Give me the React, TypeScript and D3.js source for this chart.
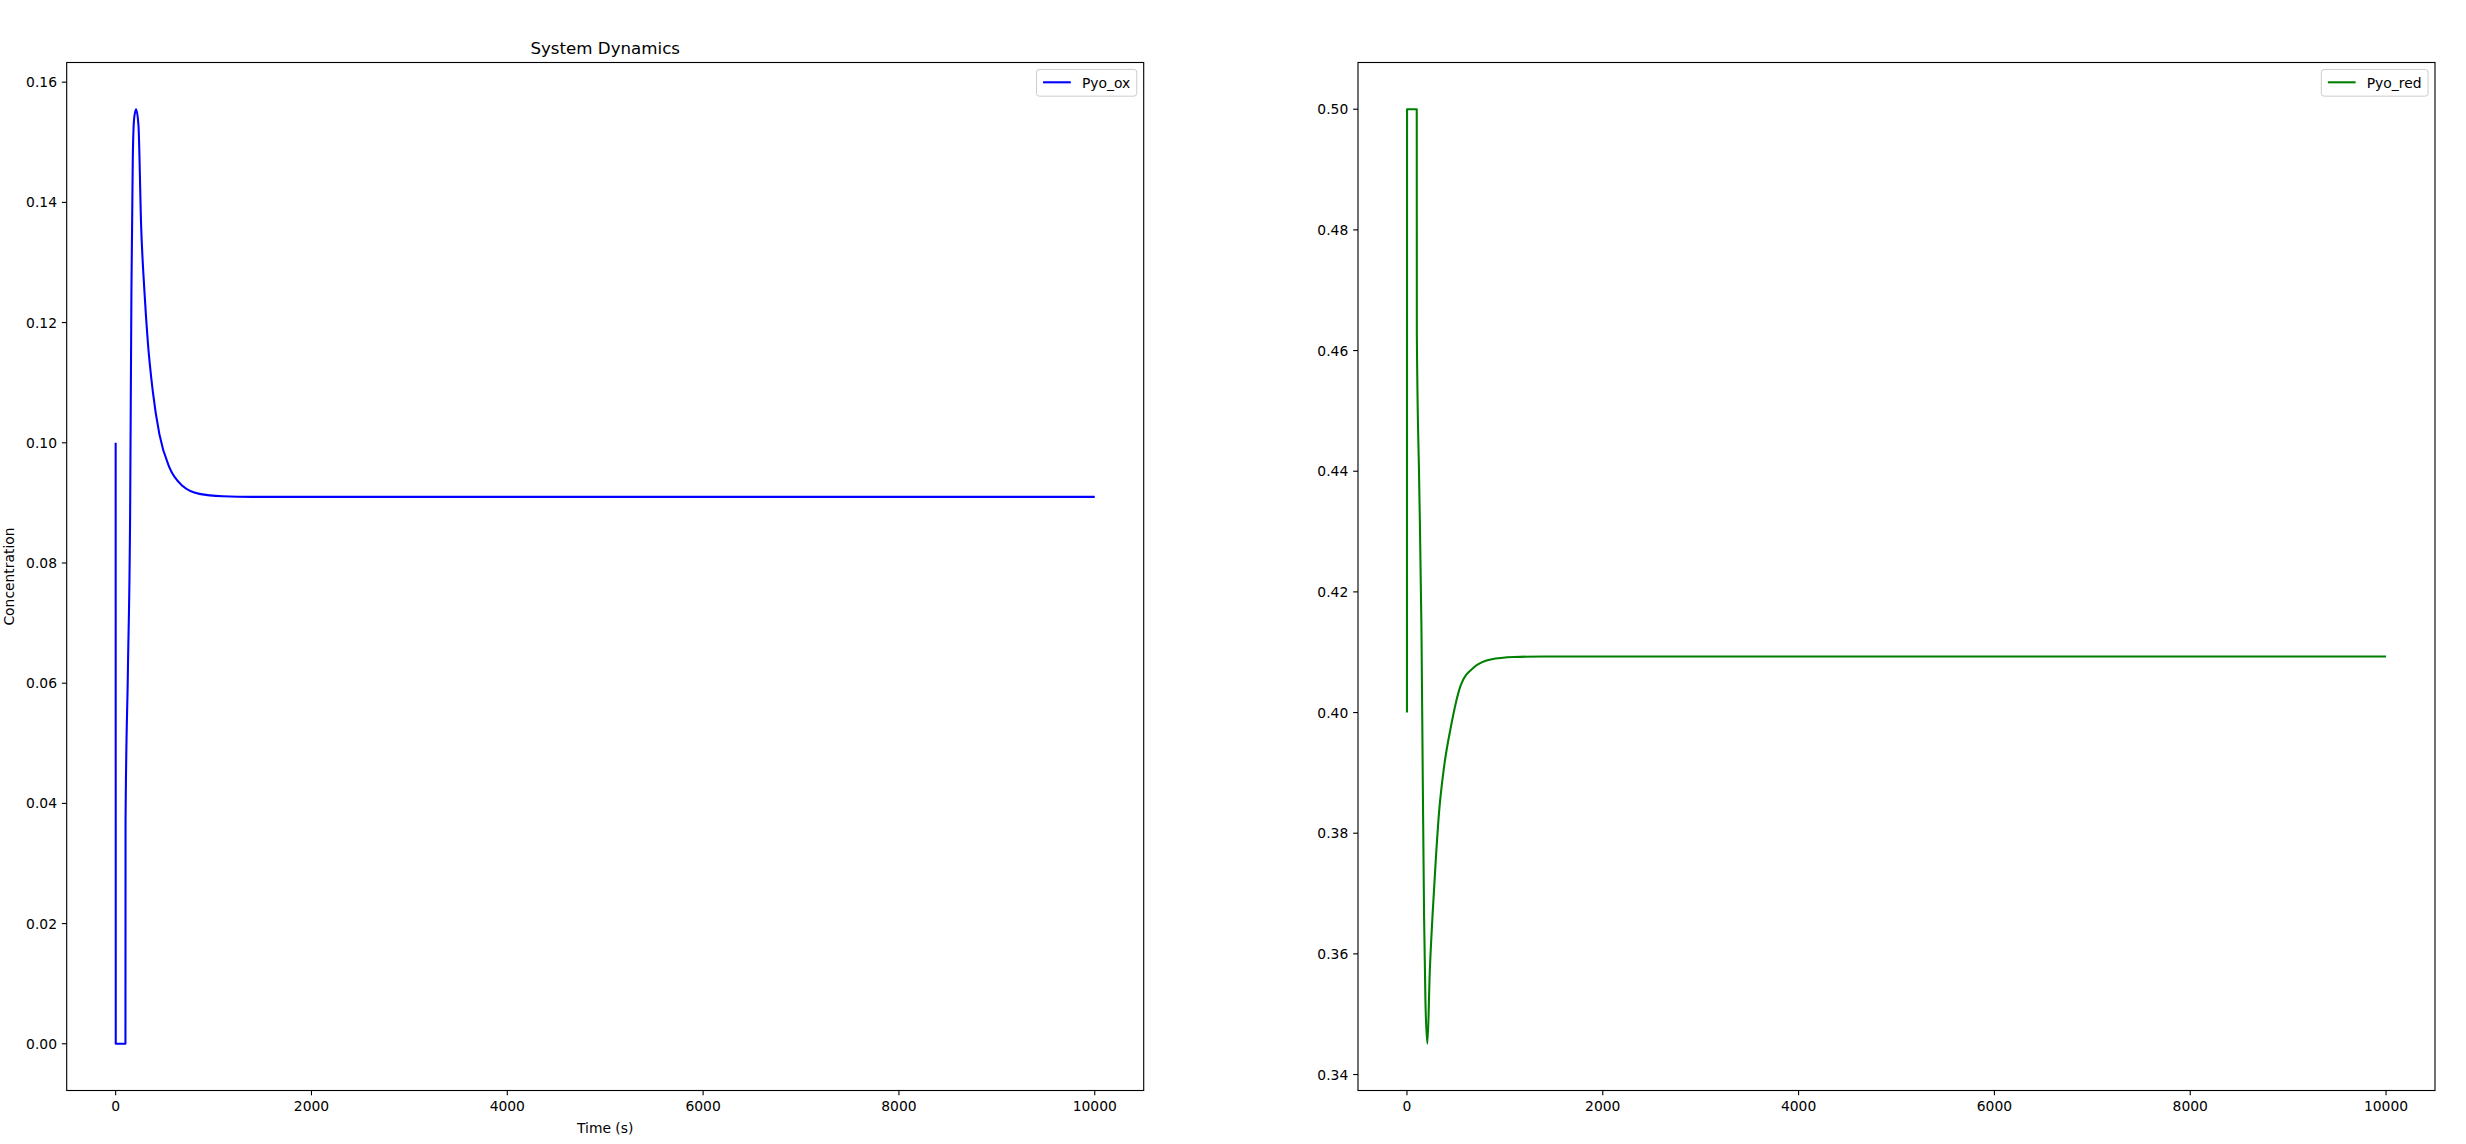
import React, { useEffect, useRef } from 'react';
import * as d3 from 'd3';

// time points (s), shared by both series
const TIME = [0, 1, 100, 101, 125, 148, 161, 175, 189, 209, 233, 260, 294, 328, 379, 447, 549, 685, 855, 1094, 1400, 2000, 4000, 6000, 8000, 10000];

const PYO_OX = [0.1, 0, 0, 0.037, 0.062, 0.0887, 0.1252, 0.1473, 0.154, 0.1555, 0.1528, 0.1362, 0.1252, 0.1169, 0.1086, 0.1014, 0.0959, 0.0928, 0.0915, 0.0911, 0.091, 0.091, 0.091, 0.091, 0.091, 0.091];

const PYO_RED = [0.4, 0.5, 0.5, 0.463, 0.438, 0.414, 0.39, 0.366, 0.352, 0.3451, 0.357, 0.366, 0.3755, 0.3835, 0.391, 0.3975, 0.4045, 0.4075, 0.4088, 0.4092, 0.4093, 0.4093, 0.4093, 0.4093, 0.4093, 0.4093];

const X_TICKS = [0, 2000, 4000, 6000, 8000, 10000];
const OX_TICKS = [0, 0.02, 0.04, 0.06, 0.08, 0.1, 0.12, 0.14, 0.16];
const RED_TICKS = [0.34, 0.36, 0.38, 0.4, 0.42, 0.44, 0.46, 0.48, 0.5];

const WIDTH = 2466;
const HEIGHT = 1144;
const FONT = '"DejaVu Sans", sans-serif';
const PT = 100 / 72; // figure was saved at 100 dpi

export default function App() {
  const svgRef = useRef<SVGSVGElement>(null);

  useEffect(() => {
    if (!svgRef.current) return;
    const svg = d3.select(svgRef.current);
    svg.selectAll('*').remove();

    const top = 62.5;
    const bottom = 1090.5;
    const axW = 1077;
    const fs = 10 * PT;
    const tickLen = 3.5 * PT;
    const tickPad = 3.5 * PT;

    const panels = [
      { left: 66.7, values: PYO_OX, ticks: OX_TICKS, color: 'blue', label: 'Pyo_ox', title: 'System Dynamics', xlabel: 'Time (s)', ylabel: 'Concentration' },
      { left: 1358, values: PYO_RED, ticks: RED_TICKS, color: 'green', label: 'Pyo_red', title: '', xlabel: '', ylabel: '' },
    ];

    panels.forEach(p => {
      const right = p.left + axW;

      // matplotlib style 5% margins
      const [x0, x1] = d3.extent(TIME) as [number, number];
      const [y0, y1] = d3.extent(p.values) as [number, number];
      const dx = (x1 - x0) * 0.05;
      const dy = (y1 - y0) * 0.05;

      const x = d3.scaleLinear().domain([x0 - dx, x1 + dx]).range([p.left, right]);
      const y = d3.scaleLinear().domain([y0 - dy, y1 + dy]).range([bottom, top]);

      const g = svg.append('g');

      // Línea de datos
      const line = d3.line<number>()
        .x((_, i) => x(TIME[i]))
        .y(d => y(d))
        .curve(d3.curveMonotoneX);

      g.append('path')
        .datum(p.values)
        .attr('d', line)
        .attr('fill', 'none')
        .attr('stroke', p.color)
        .attr('stroke-width', 1.5 * PT)
        .attr('stroke-linejoin', 'round');

      // Marco
      g.append('rect')
        .attr('x', p.left)
        .attr('y', top)
        .attr('width', axW)
        .attr('height', bottom - top)
        .attr('fill', 'none')
        .attr('stroke', '#000')
        .attr('stroke-width', 0.8 * PT);

      // Eje X
      X_TICKS.forEach(t => {
        g.append('line')
          .attr('x1', x(t)).attr('x2', x(t))
          .attr('y1', bottom).attr('y2', bottom + tickLen)
          .attr('stroke', '#000')
          .attr('stroke-width', 0.8 * PT);
        g.append('text')
          .attr('x', x(t))
          .attr('y', bottom + tickLen + tickPad + fs * 0.76)
          .attr('text-anchor', 'middle')
          .attr('font-family', FONT)
          .attr('font-size', fs)
          .text(d3.format('d')(t));
      });

      // Eje Y
      p.ticks.forEach(t => {
        g.append('line')
          .attr('x1', p.left - tickLen).attr('x2', p.left)
          .attr('y1', y(t)).attr('y2', y(t))
          .attr('stroke', '#000')
          .attr('stroke-width', 0.8 * PT);
        g.append('text')
          .attr('x', p.left - tickLen - tickPad)
          .attr('y', y(t))
          .attr('dy', '0.36em')
          .attr('text-anchor', 'end')
          .attr('font-family', FONT)
          .attr('font-size', fs)
          .text(d3.format('.2f')(t));
      });

      const cx = (p.left + right) / 2;
      if (p.title) {
        g.append('text')
          .attr('x', cx)
          .attr('y', top - 6 * PT - 0.5)
          .attr('text-anchor', 'middle')
          .attr('font-family', FONT)
          .attr('font-size', 12 * PT)
          .text(p.title);
      }
      if (p.xlabel) {
        g.append('text')
          .attr('x', cx)
          .attr('y', 1132.5)
          .attr('text-anchor', 'middle')
          .attr('font-family', FONT)
          .attr('font-size', fs)
          .text(p.xlabel);
      }
      if (p.ylabel) {
        g.append('text')
          .attr('transform', `translate(14,${(top + bottom) / 2}) rotate(-90)`)
          .attr('text-anchor', 'middle')
          .attr('font-family', FONT)
          .attr('font-size', fs)
          .text(p.ylabel);
      }

      // Leyenda
      const pad = 0.4 * fs;
      const handle = 2 * fs;
      const gap = 0.8 * fs;
      const legend = g.append('g');
      const box = legend.append('rect');
      const label = legend.append('text')
        .attr('font-family', FONT)
        .attr('font-size', fs)
        .text(p.label);
      const tw = (label.node() as SVGTextElement).getComputedTextLength();
      const bw = pad * 2 + handle + gap + tw + 2;
      const bh = 26.7;
      const bx = right - 0.5 * fs - bw;
      const by = top + 0.5 * fs;
      box.attr('x', bx).attr('y', by)
        .attr('width', bw).attr('height', bh)
        .attr('rx', 0.2 * fs)
        .attr('fill', 'rgba(255,255,255,0.8)')
        .attr('stroke', '#cccccc')
        .attr('stroke-width', 1);
      legend.append('line')
        .attr('x1', bx + pad + 1).attr('x2', bx + pad + 1 + handle)
        .attr('y1', by + bh / 2 - 0.5).attr('y2', by + bh / 2 - 0.5)
        .attr('stroke', p.color)
        .attr('stroke-width', 1.5 * PT);
      label.attr('x', bx + pad + 1 + handle + gap).attr('y', by + bh / 2 + fs * 0.36);
    });
  }, []);

  return (
    <svg
      ref={svgRef}
      width={WIDTH}
      height={HEIGHT}
      style={{ position: 'absolute', left: 0, top: 0, display: 'block', background: '#fff' }}
    />
  );
}
